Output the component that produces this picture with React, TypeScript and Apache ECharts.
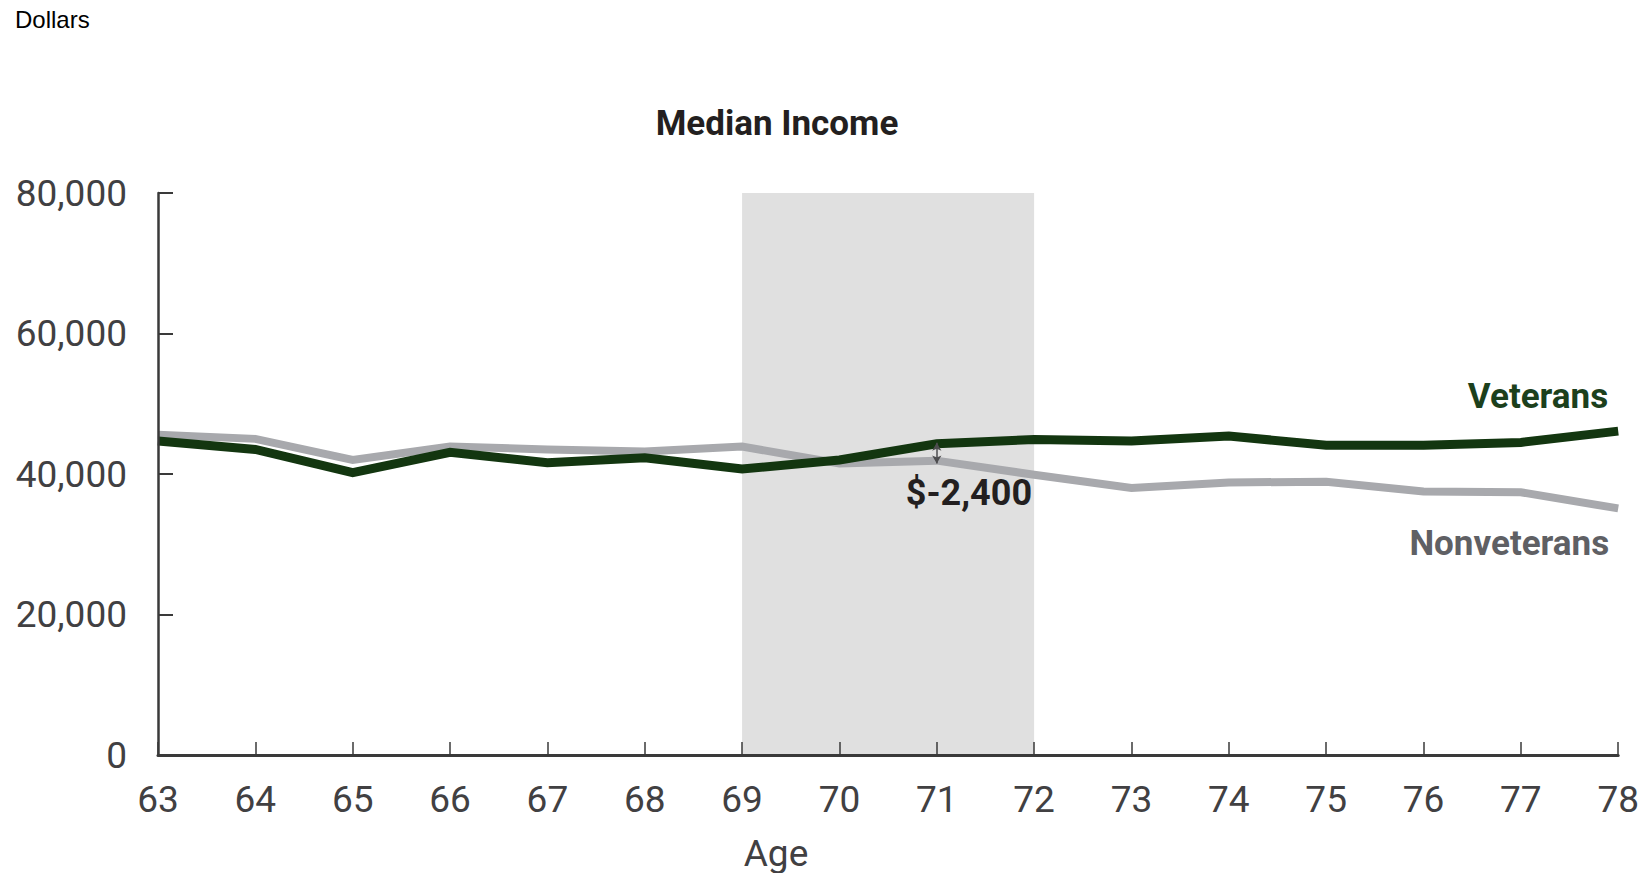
import React, { useEffect, useRef } from "react";
import * as echarts from "echarts";

const ages = [63, 64, 65, 66, 67, 68, 69, 70, 71, 72, 73, 74, 75, 76, 77, 78];
const veterans = [44700, 43500, 40200, 43100, 41600, 42300, 40700, 42000, 44300, 44900, 44700, 45400, 44100, 44100, 44500, 46100];
const nonveterans = [45600, 45000, 42000, 43900, 43500, 43200, 43900, 41500, 41900, 39900, 38000, 38800, 38900, 37500, 37400, 35100];
const yTicks = [0, 20000, 40000, 60000, 80000];
const shadeRange = [69, 72];
const gapAge = 71;
const gapTop = 44450;
const gapBottom = 41500;
const gapLabel = "$-2,400";
const gapLabelPos = [71.33, 37300];
const vetLabelPos = [78, 51000];
const nonvetLabelPos = [78, 30100];

const FONT = "Roboto, 'Noto Sans', sans-serif";

export default function App() {
  const ref = useRef<HTMLDivElement>(null);
  useEffect(() => {
    if (!ref.current) return;
    const chart = echarts.init(ref.current, undefined, { renderer: "svg" });
    const fmt = (v: number) => v.toLocaleString("en-US");
    chart.setOption({
      animation: false,
      backgroundColor: "#ffffff",
      grid: { left: 158, right: 21, top: 193, bottom: 118, containLabel: false },
      xAxis: {
        type: "value",
        min: ages[0],
        max: ages[ages.length - 1],
        interval: 1,
        z: 5,
        axisLine: { show: true, onZero: false, lineStyle: { color: "#3a3a3a", width: 3 } },
        axisTick: { show: true, inside: true, length: 13, lineStyle: { color: "#3a3a3a", width: 1.5 } },
        axisLabel: { fontFamily: FONT, fontSize: 37, color: "#414042", margin: 26 },
        splitLine: { show: false },
      },
      yAxis: {
        type: "value",
        min: yTicks[0],
        max: yTicks[yTicks.length - 1],
        interval: yTicks[1] - yTicks[0],
        z: 5,
        axisLine: { show: true, lineStyle: { color: "#3a3a3a", width: 2.5 } },
        axisTick: { show: true, inside: true, length: 15, lineStyle: { color: "#3a3a3a", width: 2 } },
        axisLabel: { fontFamily: FONT, fontSize: 37, color: "#414042", margin: 31, formatter: fmt },
        splitLine: { show: false },
      },
      graphic: [
        {
          type: "text",
          left: 15,
          top: 7,
          style: { text: "Dollars", fontFamily: "'Liberation Sans', Arial, sans-serif", fontSize: 24, fill: "#000000" },
        },
        {
          type: "text",
          x: 777,
          y: 123,
          style: {
            text: "Median Income",
            fontFamily: FONT,
            fontSize: 35,
            fontWeight: "bold",
            fill: "#231f20",
            align: "center",
            verticalAlign: "middle",
          },
        },
        {
          type: "text",
          x: 776,
          y: 853,
          style: {
            text: "Age",
            fontFamily: FONT,
            fontSize: 37,
            fill: "#414042",
            align: "center",
            verticalAlign: "middle",
          },
        },
      ],
      series: [
        {
          name: "Nonveterans",
          type: "line",
          z: 2,
          symbol: "none",
          data: ages.map((a, i) => [a, nonveterans[i]]),
          lineStyle: { color: "#a8a9ad", width: 8, join: "miter" },
          itemStyle: { color: "#a8a9ad" },
          markArea: {
            silent: true,
            itemStyle: { color: "#e0e0e0" },
            data: [[{ xAxis: shadeRange[0] }, { xAxis: shadeRange[1] }]],
          },
        },
        {
          name: "Veterans",
          type: "line",
          z: 3,
          symbol: "none",
          data: ages.map((a, i) => [a, veterans[i]]),
          lineStyle: { color: "#133610", width: 9, join: "miter" },
          itemStyle: { color: "#133610" },
        },
        {
          name: "annotations",
          type: "line",
          z: 10,
          data: [],
          symbol: "none",
          markLine: {
            silent: true,
            symbol: ["arrow", "arrow"],
            symbolSize: [7, 8],
            label: { show: false },
            lineStyle: { color: "#4d4d4f", width: 1.5, type: "solid" },
            data: [[{ coord: [gapAge, gapTop] }, { coord: [gapAge, gapBottom] }]],
          },
          markPoint: {
            silent: true,
            symbol: "circle",
            symbolSize: 0,
            data: [
              {
                coord: gapLabelPos,
                label: {
                  show: true,
                  position: "inside",
                  formatter: gapLabel,
                  fontFamily: FONT,
                  fontSize: 36,
                  fontWeight: "bold",
                  color: "#231f20",
                  align: "center",
                  verticalAlign: "middle",
                },
              },
              {
                coord: vetLabelPos,
                label: {
                  show: true,
                  position: "inside",
                  formatter: "Veterans",
                  fontFamily: FONT,
                  fontSize: 35,
                  fontWeight: "bold",
                  color: "#1c401c",
                  align: "right",
                  verticalAlign: "middle",
                  offset: [-10, 0],
                },
              },
              {
                coord: nonvetLabelPos,
                label: {
                  show: true,
                  position: "inside",
                  formatter: "Nonveterans",
                  fontFamily: FONT,
                  fontSize: 35,
                  fontWeight: "bold",
                  color: "#5f6064",
                  align: "right",
                  verticalAlign: "middle",
                  offset: [-9, 0],
                },
              },
            ],
          },
        },
      ],
    });
    return () => chart.dispose();
  }, []);
  return (
    <div
      ref={ref}
      style={{ position: "fixed", left: 0, top: 0, width: 1642, height: 873, background: "#fff" }}
    />
  );
}
